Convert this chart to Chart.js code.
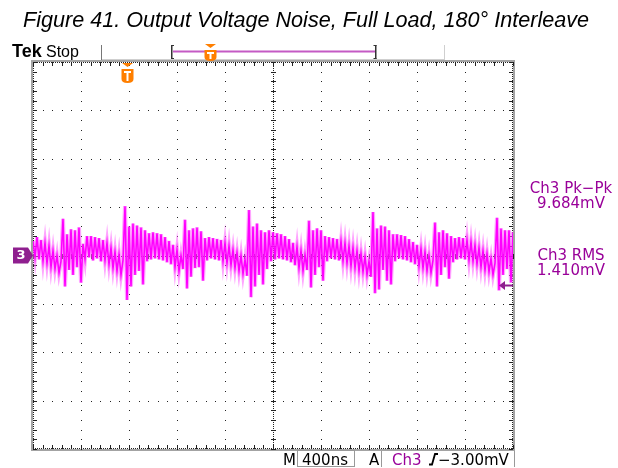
<!DOCTYPE html>
<html>
<head>
<meta charset="utf-8">
<script src="https://cdn.jsdelivr.net/npm/chart.js@4/dist/chart.umd.min.js"></script>
<style>
  html, body { margin: 0; padding: 0; background: #fff; }
</style>
</head>
<body>
<canvas id="scope" width="618" height="468"></canvas>
<script>
// scope settings
const TIME_PER_DIV = 400;   // ns  (M 400ns)
const VOLT_PER_DIV = 5;     // mV
const H_DIVS = 10;
const V_DIVS = 8;
const TRIG_LEVEL = -3.0;    // mV
const TRIG_TIME = 780;      // ns from left edge
const SAMPLE_NS = TIME_PER_DIV * H_DIVS / 240;

const TITLE = "Figure 41. Output Voltage Noise, Full Load, 180\u00b0 Interleave";
const readoutLines = ["Ch3 Pk\u2212Pk", "9.684mV", "Ch3 RMS", "1.410mV"];
const timebaseLabel = "400ns";
const trigLabel = "\u22123.00mV";

// Ch3 trace in mV, one sample every SAMPLE_NS
const ch3 = [
  1.5, -0.2, 1.9, -0.4, 1.6, -0.6, 1.3, -0.8, 1.0, -1.2, 0.5, -1.4, 0.0, -1.8, -0.6,
  3.8, -3.2, 2.2, -1.5, 2.7, -2.0, 2.6, -1.2, 2.9, -2.8, 1.2, -0.4,
  2.0, -0.2, 2.0, -0.5, 1.9, -0.3, 1.8, -0.6, 1.6, -0.5, 1.3, -0.9, 0.8, -1.3, 0.4, -1.6, 0.1, -2.0, -0.5,
  5.1, -4.6, 3.0, -3.2, 3.3, -2.0, 3.1, -1.6, 2.9, -3.0, 2.6, -0.6, 2.3, -0.4, 2.4, -0.3, 2.3, -0.4, 2.2, -0.5,
  1.9, -0.7, 1.5, -0.9, 1.1, -1.2, 0.6, -1.6, 0.0, -1.4,
  3.7, -3.4, 2.6, -2.2, 2.8, -1.3, 2.9, -1.2, 2.5, -2.6, 1.8, -0.5, 1.9, -0.3, 1.8, -0.4, 1.7, -0.5, 1.6, -0.6,
  1.3, -0.8, 1.0, -1.0, 0.6, -1.3, 0.3, -1.6, 0.0, -1.9, -0.4, -2.1,
  4.7, -4.3, 3.0, -3.2, 3.3, -2.0, 2.6, -3.0, 2.4, -1.4, 2.6, -0.6, 2.4, -0.4, 2.3, -0.3, 2.2, -0.4, 2.0, -0.5,
  1.7, -0.7, 1.3, -1.0, 0.9, -1.3, 0.5, -1.6, 0.1, -1.5,
  3.6, -3.3, 2.6, -2.0, 2.8, -1.2, 2.6, -2.6, 2.0, -0.6, 1.9, -0.3, 1.8, -0.4, 1.7, -0.5, 1.5, -0.6, 1.3, -0.8,
  1.0, -1.1, 0.8, -1.3, 0.5, -1.6, 0.2, -1.7, -0.1, -2.0, -0.6, -2.2,
  4.5, -3.9, 2.8, -3.5, 3.1, -1.5, 3.0, -2.6, 2.6, -3.0, 2.2, -0.6, 2.2, -0.3, 2.1, -0.4, 2.0, -0.5, 1.7, -0.7,
  1.4, -0.9, 1.1, -1.1, 0.7, -1.3, 0.4, -1.6, 0.0, -1.8, -0.5,
  3.4, -3.2, 2.4, -2.0, 2.6, -1.2, 2.3, -2.4, 2.0, -0.7, 1.8, -0.4, 1.9, -0.3, 1.8, -0.4, 1.6, -0.5, 1.4, -0.6,
  1.1, -0.9, 0.8, -1.2, 0.5, -1.5, 0.2, -1.7, -0.3, -2.0, -0.8,
  3.9, -3.6, 2.8, -2.0, 2.6, -1.4, 2.6, -2.8, 2.4
];

const points = ch3.map((v, i) => ({ x: i * SAMPLE_NS, y: v }));
const yHalf = VOLT_PER_DIV * V_DIVS / 2;

function trigMarker(ctx, x, top, boxH) {
  ctx.fillStyle = "#ff7f00";
  ctx.beginPath();
  ctx.moveTo(x - 5, top);
  ctx.lineTo(x + 6, top);
  ctx.lineTo(x + 0.5, top + 4);
  ctx.closePath();
  ctx.fill();
  const bt = top + 6;
  ctx.beginPath();
  ctx.moveTo(x - 5.5, bt);
  ctx.lineTo(x + 6.5, bt);
  ctx.lineTo(x + 6.5, bt + boxH - 4);
  ctx.quadraticCurveTo(x + 6.5, bt + boxH, x + 0.5, bt + boxH);
  ctx.quadraticCurveTo(x - 5.5, bt + boxH, x - 5.5, bt + boxH - 4);
  ctx.closePath();
  ctx.fill();
  ctx.fillStyle = "#fff";
  ctx.fillRect(x - 3, bt + 2, 7, 2);
  ctx.fillRect(x - 0.5, bt + 2, 2, boxH - 4);
}

const scopeDecor = {
  id: "scopeDecor",
  beforeDatasetsDraw(chart) {
    const { ctx, scales: { x, y } } = chart;
    const L = Math.round(x.left), R = Math.round(x.right);
    const T = Math.round(y.top), B = Math.round(y.bottom);
    const px = v => Math.round(x.getPixelForValue(v));
    const py = v => Math.round(y.getPixelForValue(v));
    const xSub = TIME_PER_DIV / 5, ySub = VOLT_PER_DIV / 5;
    const dot = (a, b) => ctx.fillRect(a, b, 1, 1);
    ctx.save();
    // gray bezel
    ctx.strokeStyle = "#a3a3a3";
    ctx.lineWidth = 2;
    ctx.strokeRect(L - 1, T - 1, R - L + 2, B - T + 2);
    ctx.fillStyle = "#222";
    // dotted division lines
    for (let d = 1; d < H_DIVS; d++) {
      const gx = px(d * TIME_PER_DIV);
      for (let s = 0; s <= V_DIVS * 5; s++) dot(gx, py(-yHalf + s * ySub));
    }
    for (let d = 1; d < V_DIVS; d++) {
      const gy = py(-yHalf + d * VOLT_PER_DIV);
      for (let s = 0; s <= H_DIVS * 5; s++) dot(px(s * xSub), gy);
    }
    // centre cross with subdivision ticks
    const cx = px(TIME_PER_DIV * H_DIVS / 2), cy = py(0);
    for (let a = L; a <= R; a += 2) dot(a, cy);
    for (let b = T; b <= B; b += 2) dot(cx, b);
    for (let s = 0; s <= H_DIVS * 5; s++) ctx.fillRect(px(s * xSub), cy - 2, 1, 5);
    for (let s = 0; s <= V_DIVS * 5; s++) ctx.fillRect(cx - 2, py(-yHalf + s * ySub), 5, 1);
    // edges with inward ticks
    for (let a = L; a <= R; a += 2) { dot(a, T); dot(a, B - 1); }
    for (let b = T; b <= B; b += 2) { dot(L, b); dot(R - 1, b); }
    for (let s = 0; s <= H_DIVS * 5; s++) {
      const a = px(s * xSub);
      ctx.fillRect(a, T, 1, 4);
      ctx.fillRect(a, B - 4, 1, 4);
    }
    for (let s = 0; s <= V_DIVS * 5; s++) {
      const b = py(-yHalf + s * ySub);
      ctx.fillRect(L, b, 4, 1);
      ctx.fillRect(R - 4, b, 4, 1);
    }
    ctx.restore();
  },
  afterDraw(chart) {
    const { ctx, scales: { x, y } } = chart;
    const R = x.right;
    ctx.save();
    ctx.textBaseline = "alphabetic";
    ctx.textAlign = "left";

    // title
    ctx.fillStyle = "#000";
    ctx.font = 'italic 21.6px "Liberation Sans"';
    ctx.fillText(TITLE, 23, 27);

    // header
    ctx.font = 'bold 18px "Liberation Sans"';
    ctx.fillText("Tek", 12, 57);
    ctx.font = '16px "Liberation Sans"';
    ctx.fillText("Stop", 46, 57);
    ctx.fillStyle = "#777";
    ctx.fillRect(101, 45, 1, 15);
    ctx.fillStyle = "#cfcfcf";
    ctx.fillRect(444, 45, 1, 15);
    ctx.fillRect(102, 59, 342, 1);
    ctx.fillStyle = "#333";
    ctx.fillRect(171, 45, 1.5, 14);
    ctx.fillRect(171, 45, 3, 1);
    ctx.fillRect(171, 58, 3, 1);
    ctx.fillRect(375, 45, 1.5, 14);
    ctx.fillRect(373.5, 45, 3, 1);
    ctx.fillRect(373.5, 58, 3, 1);
    ctx.fillStyle = "#c45ac4";
    ctx.fillRect(173, 50.5, 202, 2);
    trigMarker(ctx, 210, 44, 11);

    // trigger position on screen
    trigMarker(ctx, Math.round(x.getPixelForValue(TRIG_TIME)), y.top + 1, 14);

    // channel 3 ground marker
    const gy = y.getPixelForValue(0);
    ctx.fillStyle = "#8f1f8f";
    ctx.beginPath();
    ctx.moveTo(13, gy - 8);
    ctx.lineTo(28, gy - 8);
    ctx.lineTo(33, gy);
    ctx.lineTo(28, gy + 8);
    ctx.lineTo(13, gy + 8);
    ctx.closePath();
    ctx.fill();
    ctx.fillStyle = "#fff";
    ctx.font = 'bold 13px "DejaVu Sans"';
    ctx.textAlign = "center";
    ctx.textBaseline = "middle";
    ctx.fillText("3", 21, gy + 0.5);

    // trigger level arrow
    const ty = Math.round(y.getPixelForValue(TRIG_LEVEL)) + 0.5;
    ctx.fillStyle = "#8f1f8f";
    ctx.beginPath();
    ctx.moveTo(R - 14, ty);
    ctx.lineTo(R - 8, ty - 4.5);
    ctx.lineTo(R - 8, ty + 4.5);
    ctx.closePath();
    ctx.fill();
    ctx.fillRect(R - 9, ty - 1, 9, 2);

    // measurement readouts
    ctx.textBaseline = "alphabetic";
    ctx.fillStyle = "#990099";
    ctx.font = '15px "DejaVu Sans"';
    ctx.fillText(readoutLines[0], 571, 193);
    ctx.fillText(readoutLines[1], 571, 208);
    ctx.fillText(readoutLines[2], 571, 260);
    ctx.fillText(readoutLines[3], 571, 275);

    // bottom status bar
    ctx.textAlign = "left";
    ctx.fillStyle = "#000";
    ctx.fillText("M", 283, 465);
    ctx.strokeStyle = "#999";
    ctx.lineWidth = 1;
    ctx.strokeRect(297.5, 450.5, 57, 16);
    ctx.fillText(timebaseLabel, 302, 465);
    ctx.fillText("A", 369, 465);
    ctx.fillStyle = "#999";
    ctx.fillRect(381, 451, 1, 16);
    ctx.fillRect(514, 451, 1, 16);
    ctx.fillStyle = "#990099";
    ctx.fillText("Ch3", 392, 465);
    ctx.strokeStyle = "#000";
    ctx.lineWidth = 1.8;
    ctx.beginPath();
    ctx.moveTo(429, 464.5);
    ctx.lineTo(432, 464.5);
    ctx.lineTo(435, 454);
    ctx.lineTo(438, 454);
    ctx.stroke();
    ctx.fillStyle = "#000";
    ctx.fillText(trigLabel, 438, 465);
    ctx.restore();
  }
};

new Chart(document.getElementById("scope"), {
  type: "line",
  data: {
    datasets: [
      {
        data: points,
        borderColor: "#ff00ff",
        borderWidth: 1.6,
        pointRadius: 0,
        tension: 0,
        order: 1
      },
      {
        data: points,
        borderColor: "rgba(255, 90, 255, 0.55)",
        borderWidth: 4,
        pointRadius: 0,
        tension: 0,
        order: 2
      }
    ]
  },
  options: {
    responsive: false,
    animation: false,
    events: [],
    layout: { padding: { left: 33, top: 62, right: 105, bottom: 19 } },
    scales: {
      x: { type: "linear", min: 0, max: TIME_PER_DIV * H_DIVS, display: false },
      y: { type: "linear", min: -yHalf, max: yHalf, display: false }
    },
    plugins: {
      legend: { display: false },
      tooltip: { enabled: false }
    }
  },
  plugins: [scopeDecor]
});
</script>
</body>
</html>
